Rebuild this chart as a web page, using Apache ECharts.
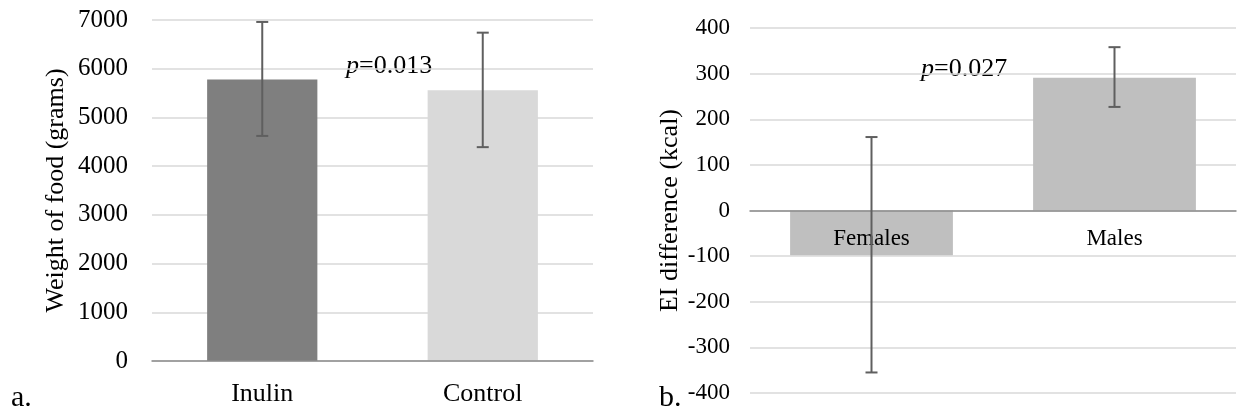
<!DOCTYPE html>
<html>
<head>
<meta charset="utf-8">
<script src="https://cdn.jsdelivr.net/npm/echarts@6/dist/echarts.min.js"></script>
<style>
  html, body { margin: 0; padding: 0; background: #fff; }
  #chart { width: 1237px; height: 415px; }
</style>
</head>
<body>
<div id="chart"></div>
<script>
  // panel a: weight of food
  const foodCats = ['Inulin', 'Control'];
  const foodMean = [5780, 5560];
  const foodLow = [4620, 4390];
  const foodHigh = [6960, 6740];
  const foodColors = ['#7f7f7f', '#d9d9d9'];
  const foodTicks = { min: 0, max: 7000, interval: 1000 };

  // panel b: EI difference
  const eiCats = ['Females', 'Males'];
  const eiMean = [-98, 291];
  const eiLow = [-355, 227];
  const eiHigh = [161, 358];
  const eiTicks = { min: -400, max: 400, interval: 100 };

  const font = "'Liberation Serif', 'Times New Roman', serif";

  let chart = echarts.init(document.getElementById('chart'));

  function errorBar(params, api) {
    const x = api.value(0);
    const lo = api.coord([x, api.value(1)]);
    const hi = api.coord([x, api.value(2)]);
    const half = 6;
    const style = { stroke: '#5f5f5f', lineWidth: 2 };
    return {
      type: 'group',
      children: [
        { type: 'line', shape: { x1: lo[0], y1: lo[1], x2: hi[0], y2: hi[1] }, style: style },
        { type: 'line', shape: { x1: hi[0] - half, y1: hi[1], x2: hi[0] + half, y2: hi[1] }, style: style },
        { type: 'line', shape: { x1: lo[0] - half, y1: lo[1], x2: lo[0] + half, y2: lo[1] }, style: style }
      ]
    };
  }

  // plain numbers, no thousands separator
  const plain = v => String(v);

  // the right grid is symmetric around 0, so the category axis sits halfway up
  const eiGridTop = 28, eiGridBottom = 22, eiGridHeight = 415 - eiGridTop - eiGridBottom;
  const eiZeroShift = -eiGridHeight * (0 - eiTicks.min) / (eiTicks.max - eiTicks.min);

  let option = {
    animation: false,
    textStyle: { fontFamily: font },
    grid: [
      { left: 152, right: 644, top: 20, bottom: 54 },
      { left: 750, right: 1, top: eiGridTop, bottom: eiGridBottom }
    ],
    xAxis: [
      {
        type: 'category', gridIndex: 0, data: foodCats, z: 5,
        axisTick: { show: false },
        axisLine: { lineStyle: { color: '#8c8c8c', width: 1.5 } },
        axisLabel: { color: '#000', fontSize: 26, fontFamily: font, margin: 20 }
      },
      {
        type: 'category', gridIndex: 1, data: eiCats, z: 5,
        offset: eiZeroShift,
        axisTick: { show: false },
        axisLine: { onZero: false, lineStyle: { color: '#8c8c8c', width: 1.5 } },
        axisLabel: { color: '#000', fontSize: 23, fontFamily: font, margin: 17 }
      }
    ],
    yAxis: [
      {
        type: 'value', gridIndex: 0,
        min: foodTicks.min, max: foodTicks.max, interval: foodTicks.interval,
        name: 'Weight of food (grams)', nameLocation: 'middle', nameGap: 83,
        nameTextStyle: { color: '#000', fontSize: 26, fontFamily: font },
        axisLine: { show: false }, axisTick: { show: false },
        axisLabel: { color: '#000', fontSize: 25, fontFamily: font, margin: 24, formatter: plain },
        splitLine: { lineStyle: { color: '#d9d9d9', width: 1.5 } }
      },
      {
        type: 'value', gridIndex: 1,
        min: eiTicks.min, max: eiTicks.max, interval: eiTicks.interval,
        name: 'EI difference (kcal)', nameLocation: 'middle', nameGap: 67,
        nameTextStyle: { color: '#000', fontSize: 26, fontFamily: font },
        axisLine: { show: false }, axisTick: { show: false },
        axisLabel: { color: '#000', fontSize: 23, fontFamily: font, margin: 20, formatter: plain },
        splitLine: { lineStyle: { color: '#d9d9d9', width: 1.5 } }
      }
    ],
    series: [
      {
        type: 'bar', xAxisIndex: 0, yAxisIndex: 0, barWidth: '50%', z: 2,
        data: foodMean.map((v, i) => ({ value: v, itemStyle: { color: foodColors[i] } }))
      },
      {
        type: 'custom', xAxisIndex: 0, yAxisIndex: 0, z: 10,
        renderItem: errorBar,
        encode: { x: 0, y: [1, 2] },
        data: foodCats.map((c, i) => [i, foodLow[i], foodHigh[i]])
      },
      {
        type: 'bar', xAxisIndex: 1, yAxisIndex: 1, barWidth: '67%', z: 2,
        itemStyle: { color: '#bfbfbf' },
        data: eiMean
      },
      {
        type: 'custom', xAxisIndex: 1, yAxisIndex: 1, z: 10,
        renderItem: errorBar,
        encode: { x: 0, y: [1, 2] },
        data: eiCats.map((c, i) => [i, eiLow[i], eiHigh[i]])
      }
    ],
    graphic: [
      {
        type: 'text', left: 346, top: 53,
        style: {
          text: '{i|p}=0.013', fontSize: 26, fontFamily: font, fill: '#000',
          rich: { i: { fontStyle: 'italic', fontSize: 26, fontFamily: font } }
        }
      },
      {
        type: 'text', left: 921, top: 56,
        style: {
          text: '{i|p}=0.027', fontSize: 26, fontFamily: font, fill: '#000',
          rich: { i: { fontStyle: 'italic', fontSize: 26, fontFamily: font } }
        }
      },
      { type: 'text', left: 11, top: 383, style: { text: 'a.', fontSize: 30, fontFamily: font, fill: '#000' } },
      { type: 'text', left: 659, top: 383, style: { text: 'b.', fontSize: 30, fontFamily: font, fill: '#000' } }
    ]
  };

  chart.setOption(option);
</script>
</body>
</html>
